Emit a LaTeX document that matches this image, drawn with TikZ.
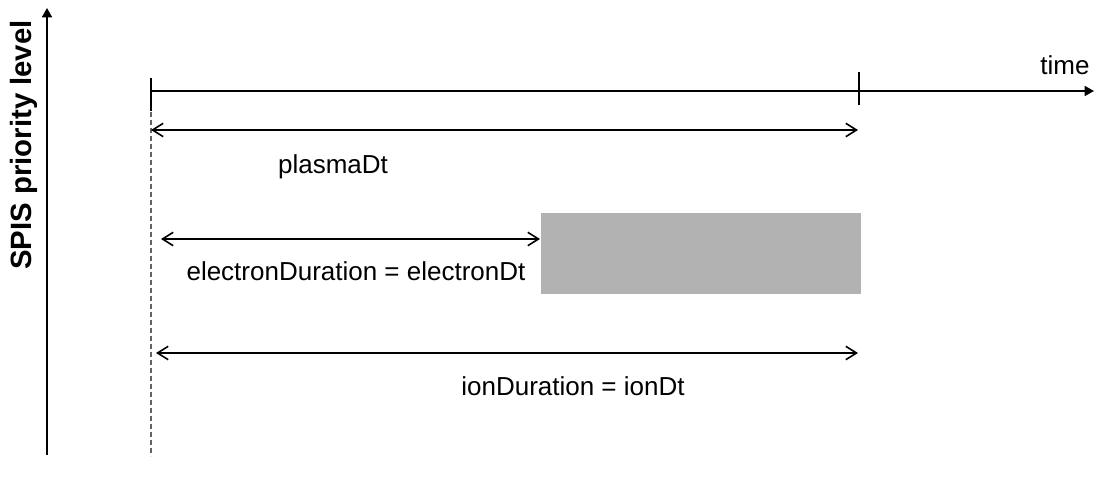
\documentclass[tikz,border=0pt]{standalone}
\usepackage{fontspec}
\setmainfont{Liberation Sans}
\usetikzlibrary{arrows.meta}
\definecolor{boxgray}{RGB}{178,178,178}
\definecolor{dashgray}{RGB}{100,100,100}

\begin{document}
\begin{tikzpicture}[x=0.75pt, y=-0.75pt, line width=1.2pt,
    dur/.style={{Straight Barb[length=8pt,width=10pt]}-{Straight Barb[length=8pt,width=10pt]}},
    axis/.style={-{Triangle[length=7pt,width=7.5pt]}},
    lbl/.style={font=\fontsize{19.5}{23}\selectfont, inner sep=0pt}]
    \useasboundingbox (0,0) rectangle (1095,485);
    % axes
    \coordinate (y0) at (47,455);
    \coordinate (y1) at (47,8);
    \draw[axis] (y0) -- (y1);
    \node[lbl, font=\fontsize{22}{26}\selectfont\bfseries, rotate=90] (prio) at (24,145) {SPIS priority level};
    \coordinate (t0) at (151,91);
    \coordinate (t1) at (859,91);
    \coordinate (tend) at (1094,91);
    \draw[axis] (t0) -- (tend);
    \draw (t0) ++(0,-13) -- ++(0,33);
    \draw (t1) ++(0,-19) -- ++(0,33);
    \node[lbl] (time) at (1065,65) {time};
    \draw[dashgray, line width=1pt, dash pattern=on 4pt off 2pt] (151,112) -- (151,456);
    % plasma
    \coordinate (p0) at (151,130);
    \coordinate (p1) at (858,130);
    \draw[dur] (p0) -- (p1);
    \node[lbl] (plasma) at (333,167) {plasmaDt};
    % electrons
    \node[fill=boxgray, inner sep=0pt, minimum width=240pt, minimum height=60.75pt, anchor=north west] (ebox) at (540,212) {};
    \coordinate (e0) at (161,239);
    \draw[dur] (e0) -- (e0 -| ebox.west);
    \node[lbl] (elec) at (356,271) {electronDuration = electronDt};
    % ions
    \coordinate (i0) at (156,353);
    \coordinate (i1) at (858,353);
    \draw[dur] (i0) -- (i1);
    \node[lbl] (ion) at (573,386) {ionDuration = ionDt};
\end{tikzpicture}
\end{document}
